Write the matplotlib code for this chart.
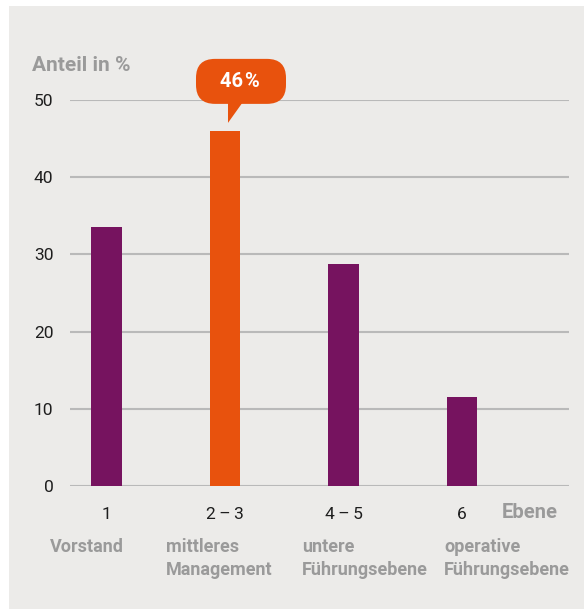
import matplotlib
matplotlib.use("Agg")
import matplotlib.pyplot as plt
import matplotlib.transforms as mtransforms
from matplotlib.patches import FancyBboxPatch, Polygon, Rectangle

# share of women per management level
levels = ["1", "2\u2009\u2013\u20093", "4\u2009\u2013\u20095", "6"]
level_names = ["Vorstand", "mittleres\nManagement", "untere\nFührungsebene", "operative\nFührungsebene"]
shares = [33.5, 46, 28.7, 11.5]
highlight = 1

purple = "#76135f"
orange = "#e8520d"
panel = "#ecebe9"
grey_txt = "#9a9a9a"
grid_col = "#b9b9b9"
num_col = "#1e1e1e"

W, H = 584, 609
fig = plt.figure(figsize=(W / 100, H / 100), dpi=100)
fig.patch.set_facecolor("white")
fig.patches.append(Rectangle((9 / W, 0), 1 - 9 / W, 1 - 6 / H, transform=fig.transFigure,
                             facecolor=panel, edgecolor="none", zorder=-10))

ax = fig.add_axes([70 / W, 1 - 486 / H, 499 / W, 386 / H])
ax.set_facecolor("none")
ax.set_xlim(-0.308, 3.903)
ax.set_ylim(0, 50)

for s in ax.spines.values():
    s.set_visible(False)
for v in range(0, 51, 10):
    ax.axhline(v, color=grid_col, lw=1.5, zorder=1)

x = list(range(len(shares)))
colors = [orange if i == highlight else purple for i in x]
ax.bar(x, shares, width=0.26, color=colors, zorder=3)

ax.set_yticks(range(0, 51, 10))
ax.set_yticklabels([str(v) for v in range(0, 51, 10)], family="Roboto", fontsize=12.5,
                   color=num_col)
ax.tick_params(axis="y", length=0, pad=12)
ax.set_xticks(x)
ax.set_xticklabels(levels, family="Roboto", fontsize=12.5, color=num_col)
ax.tick_params(axis="x", length=0, pad=15)

# axis titles
fig.text(32 / W, 1 - 71 / H, "Anteil in %", family="Roboto", fontweight="bold",
         fontsize=15, color=grey_txt, va="baseline", ha="left")
fig.text(502 / W, 1 - 513 / H, "Ebene", family="Roboto", fontweight="bold",
         fontsize=14.5, color=grey_txt, va="center", ha="left")

# level names under the tick labels
name_left = [50, 166, 302, 444]
for px, name in zip(name_left, level_names):
    fig.text(px / W, 1 - 538 / H, name, family="Roboto", fontweight="bold", fontsize=13,
             color=grey_txt, va="top", ha="left", linespacing=1.35)

# speech bubble above the highlighted bar
fig.canvas.draw()
bx, by = ax.transData.transform((x[highlight], shares[highlight]))
ident = mtransforms.IdentityTransform()
bubble = FancyBboxPatch((bx - 29, by + 27), 90, 45, boxstyle="round,pad=0,rounding_size=19",
                        facecolor=orange, edgecolor="none", transform=ident, zorder=5)
fig.patches.append(bubble)
tip = Polygon([(bx + 3, by + 29), (bx + 18, by + 29), (bx + 3, by + 8)], closed=True,
              facecolor=orange, edgecolor="none", transform=ident, zorder=5)
fig.patches.append(tip)
fig.text(bx + 15, by + 49, f"{shares[highlight]:g}\u200a%", transform=ident, family="Roboto",
         fontweight="bold", fontsize=14.5, color="white", ha="center", va="center", zorder=6)

fig.savefig("out.png", dpi=100)
